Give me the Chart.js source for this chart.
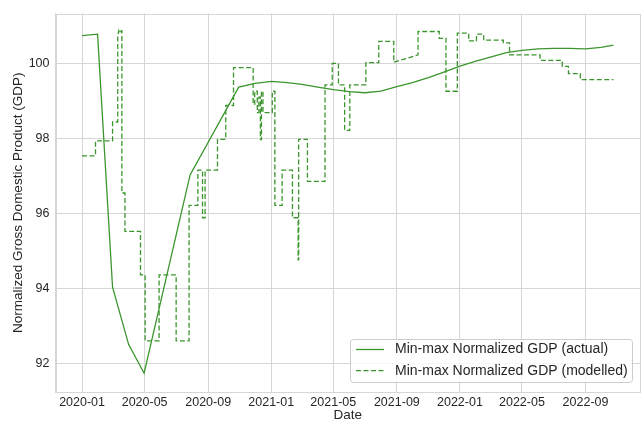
<!DOCTYPE html>
<html>
<head>
<meta charset="utf-8">
<script src="https://cdn.jsdelivr.net/npm/chart.js@4.4.1/dist/chart.umd.min.js"></script>
<style>
html, body { margin: 0; padding: 0; background: #fff; }
</style>
</head>
<body>
<canvas id="myChart" width="642" height="422"></canvas>
<script>
// x values are days counted from 2020-01-01
var actualDays = [0, 30, 59, 90, 120, 209, 303, 335, 366, 397, 425, 456, 486, 517, 547, 578, 609, 639, 670, 700,
    731, 762, 790, 821, 851, 882, 912, 943, 974, 1004, 1028];
var actualValues = [100.74, 100.78, 94.04, 92.52, 91.75, 97.03, 99.37, 99.47, 99.52, 99.49, 99.44, 99.37, 99.30, 99.25, 99.22, 99.26, 99.38, 99.49, 99.62, 99.77,
    99.93, 100.06, 100.17, 100.29, 100.35, 100.39, 100.40, 100.40, 100.39, 100.43, 100.49];

var modelDays = [0, 26, 26, 59, 59, 69, 69, 71, 73, 76, 77, 77, 83, 83, 113, 113, 122, 122, 149, 149,
    182, 182, 207, 207, 224, 224, 233, 233, 238, 238, 262, 262, 278, 278, 293, 293, 331, 331, 334, 334,
    339, 339, 342, 342, 345, 345, 347, 347, 350, 350, 368, 368, 373, 373, 387, 387, 407, 407, 418, 418,
    419, 419, 436, 436, 470, 470, 484, 484, 496, 496, 508, 508, 518, 518, 549, 549, 574, 574, 603, 603,
    650, 650, 691, 691, 704, 704, 726, 726, 748, 748, 763, 763, 777, 777, 815, 815, 827, 827, 886, 886,
    929, 929, 941, 941, 964, 964, 1028];
var modelValues = [97.54, 97.54, 97.94, 97.94, 98.44, 98.44, 100.72, 100.87, 100.80, 100.87, 100.87, 96.55, 96.55, 95.53, 95.53, 94.37, 94.37, 92.61, 92.61, 94.37,
    94.37, 92.61, 92.61, 96.22, 96.22, 97.16, 97.16, 95.89, 95.89, 97.16, 97.16, 97.98, 97.98, 98.88, 98.88, 99.89, 99.89, 98.91, 98.91, 99.26,
    99.26, 98.69, 98.69, 99.10, 99.10, 97.97, 97.97, 99.26, 99.26, 98.69, 98.69, 99.26, 99.26, 96.22, 96.22, 97.16, 97.16, 95.89, 95.89, 94.77,
    94.77, 97.98, 97.98, 96.86, 96.86, 99.43, 99.43, 100.00, 100.00, 99.43, 99.43, 98.22, 98.22, 99.43, 99.43, 100.02, 100.02, 100.59, 100.59, 100.03,
    100.23, 100.85, 100.85, 100.67, 100.67, 99.26, 99.26, 100.81, 100.81, 100.60, 100.60, 100.78, 100.78, 100.62, 100.62, 100.55, 100.55, 100.23, 100.23, 100.08,
    100.08, 99.92, 99.92, 99.73, 99.73, 99.57, 99.57];

var tickDays = [0, 121, 244, 366, 486, 609, 731, 851, 974];
var tickLabels = ['2020-01', '2020-05', '2020-09', '2021-01', '2021-05', '2021-09', '2022-01', '2022-05', '2022-09'];
var yTicks = [92, 94, 96, 98, 100];

var green = 'rgb(58,150,44)';
var gridColor = '#d6d6d6';
var textColor = '#262626';
var fontFamily = "'Liberation Sans', Arial, sans-serif";

function toPoints(xs, ys) {
    return xs.map(function (x, i) { return { x: x, y: ys[i] }; });
}

// light frame round the plotting area
var framePlugin = {
    id: 'frame',
    beforeDatasetsDraw: function (chart) {
        var a = chart.chartArea, c = chart.ctx;
        c.save();
        c.strokeStyle = gridColor;
        c.lineWidth = 1;
        c.strokeRect(Math.round(a.left) + 0.5, Math.round(a.top) + 0.5, Math.round(a.right - a.left) - 1, Math.round(a.bottom - a.top) - 1);
        c.restore();
    }
};

// legend box in the lower right corner
var boxLegend = {
    id: 'boxLegend',
    afterDraw: function (chart) {
        var c = chart.ctx;
        var x0 = 350.5, y0 = 339.5, w = 282, h = 43;
        c.save();
        c.beginPath();
        c.roundRect(x0, y0, w, h, 3);
        c.fillStyle = 'rgba(255,255,255,0.8)';
        c.fill();
        c.strokeStyle = '#cccccc';
        c.lineWidth = 1;
        c.stroke();
        c.font = '14px ' + fontFamily;
        c.textBaseline = 'middle';
        chart.data.datasets.forEach(function (ds, i) {
            var y = 349.5 + i * 21.2;
            c.beginPath();
            c.strokeStyle = ds.borderColor;
            c.lineWidth = ds.borderWidth;
            c.setLineDash(ds.borderDash || []);
            c.moveTo(356, y);
            c.lineTo(384, y);
            c.stroke();
            c.setLineDash([]);
            c.fillStyle = textColor;
            c.fillText(ds.label, 395, y);
        });
        c.restore();
    }
};

var ctx = document.getElementById('myChart');

var myChart = new Chart(ctx, {
    type: 'line',
    data: {
        datasets: [
            {
                label: 'Min-max Normalized GDP (actual)',
                data: toPoints(actualDays, actualValues),
                borderColor: green,
                borderWidth: 1.3,
                pointRadius: 0,
                fill: false,
                tension: 0
            },
            {
                label: 'Min-max Normalized GDP (modelled)',
                data: toPoints(modelDays, modelValues),
                borderColor: green,
                borderWidth: 1.3,
                borderDash: [5, 2.5],
                pointRadius: 0,
                fill: false,
                tension: 0
            }
        ]
    },
    options: {
        responsive: false,
        animation: false,
        layout: { padding: { top: 10, right: 2, left: 0, bottom: 0 } },
        plugins: {
            legend: { display: false },
            tooltip: { enabled: false }
        },
        scales: {
            x: {
                type: 'linear',
                min: -51.4,
                max: 1079.4,
                afterBuildTicks: function (scale) {
                    scale.ticks = tickDays.map(function (v) { return { value: v }; });
                },
                afterFit: function (scale) { scale.height = 30; },
                ticks: {
                    autoSkip: false,
                    maxRotation: 0,
                    padding: 3,
                    color: textColor,
                    font: { family: fontFamily, size: 12.5 },
                    callback: function (v, i) { return tickLabels[i]; }
                },
                grid: { color: gridColor, drawTicks: false },
                border: { color: gridColor },
                title: {
                    display: true,
                    text: 'Date',
                    color: textColor,
                    font: { family: fontFamily, size: 13.5 },
                    padding: { top: 0, bottom: -1 }
                }
            },
            y: {
                min: 91.25,
                max: 101.33,
                afterBuildTicks: function (scale) {
                    scale.ticks = yTicks.map(function (v) { return { value: v }; });
                },
                afterFit: function (scale) { scale.width = 55.5; },
                ticks: {
                    padding: 6,
                    color: textColor,
                    font: { family: fontFamily, size: 12.5 }
                },
                grid: { color: gridColor, drawTicks: false },
                border: { color: gridColor },
                title: {
                    display: true,
                    text: 'Normalized Gross Domestic Product (GDP)',
                    color: textColor,
                    font: { family: fontFamily, size: 13.5 },
                    padding: { top: 10, bottom: 0 }
                }
            }
        }
    },
    plugins: [framePlugin, boxLegend]
});
</script>
</body>
</html>
